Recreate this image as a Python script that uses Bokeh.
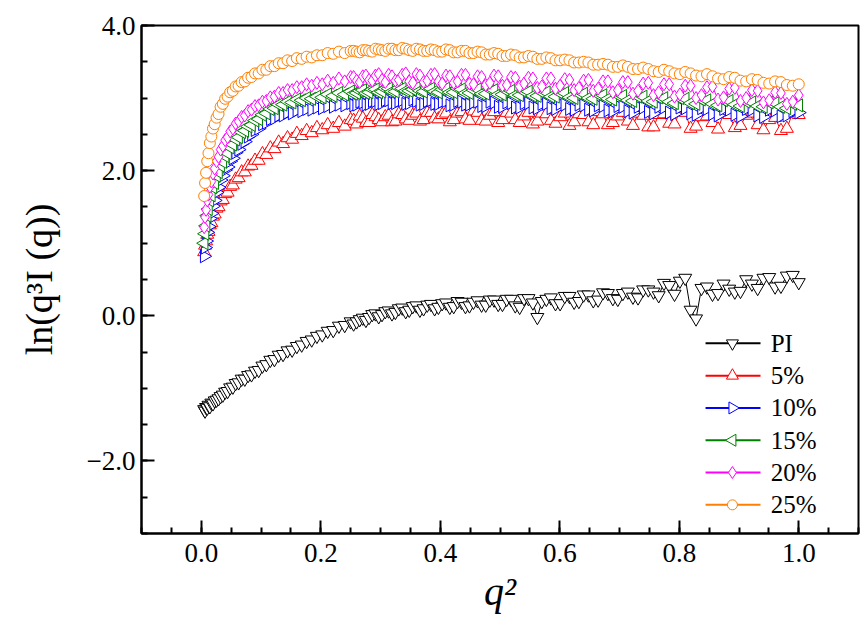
import math
from bokeh.plotting import figure
from bokeh.models import (SingleIntervalTicker, CustomJSTickFormatter, Label,
                          Range1d, ColumnDataSource)
from bokeh.embed import file_html
from bokeh.resources import INLINE

# q^2 values, q = 0.07 ... 1.00 step 0.01
q2 = [0.0049, 0.0064, 0.0081, 0.0100, 0.0121, 0.0144, 0.0169, 0.0196, 0.0225, 0.0256,
      0.0289, 0.0324, 0.0361, 0.0400, 0.0441, 0.0484, 0.0529, 0.0576, 0.0625, 0.0676,
      0.0729, 0.0784, 0.0841, 0.0900, 0.0961, 0.1024, 0.1089, 0.1156, 0.1225, 0.1296,
      0.1369, 0.1444, 0.1521, 0.1600, 0.1681, 0.1764, 0.1849, 0.1936, 0.2025, 0.2116,
      0.2209, 0.2304, 0.2401, 0.2500, 0.2601, 0.2704, 0.2809, 0.2916, 0.3025, 0.3136,
      0.3249, 0.3364, 0.3481, 0.3600, 0.3721, 0.3844, 0.3969, 0.4096, 0.4225, 0.4356,
      0.4489, 0.4624, 0.4761, 0.4900, 0.5041, 0.5184, 0.5329, 0.5476, 0.5625, 0.5776,
      0.5929, 0.6084, 0.6241, 0.6400, 0.6561, 0.6724, 0.6889, 0.7056, 0.7225, 0.7396,
      0.7569, 0.7744, 0.7921, 0.8100, 0.8281, 0.8464, 0.8649, 0.8836, 0.9025, 0.9216,
      0.9409, 0.9604, 0.9801, 1.0000]

# intermediate q^2 values, q = 0.505 ... 0.995 step 0.01
q2_mid = [0.2550, 0.2652, 0.2756, 0.2862, 0.2970, 0.3080, 0.3192, 0.3306, 0.3422, 0.3540,
          0.3660, 0.3782, 0.3906, 0.4032, 0.4160, 0.4290, 0.4422, 0.4556, 0.4692, 0.4830,
          0.4970, 0.5112, 0.5256, 0.5402, 0.5550, 0.5700, 0.5852, 0.6006, 0.6162, 0.6320,
          0.6480, 0.6642, 0.6806, 0.6972, 0.7140, 0.7310, 0.7482, 0.7656, 0.7832, 0.8010,
          0.8190, 0.8372, 0.8556, 0.8742, 0.8930, 0.9120, 0.9312, 0.9506, 0.9702, 0.9900]

pi_vals = [-1.29, -1.31, -1.26, -1.27, -1.23, -1.25, -1.20, -1.21, -1.17, -1.16,
           -1.14, -1.11, -1.09, -1.05, -1.04, -0.99, -0.98, -0.93, -0.92, -0.87,
           -0.87, -0.82, -0.81, -0.76, -0.75, -0.69, -0.67, -0.61, -0.60, -0.54,
           -0.53, -0.48, -0.47, -0.42, -0.40, -0.35, -0.33, -0.28, -0.26, -0.21,
           -0.20, -0.14, -0.13, -0.08, -0.08, -0.03, -0.02, 0.03, 0.02, 0.07,
           0.05, 0.11, 0.08, 0.14, 0.10, 0.16, 0.12, 0.18, 0.13, 0.19,
           0.14, 0.21, 0.15, 0.22, 0.16, 0.23, 0.12, 0.24, -0.02, 0.23,
           0.17, 0.27, 0.19, 0.29, 0.21, 0.32, 0.24, 0.31, 0.26, 0.36,
           0.33, 0.45, 0.30, 0.52, -0.04, 0.40, 0.31, 0.37, 0.34, 0.44,
           0.52, 0.40, 0.55, 0.46]
pi_mid = [-0.11, -0.05, -0.06, 0.02, -0.01, 0.06, 0.03, 0.10, 0.06, 0.13,
          0.08, 0.15, 0.10, 0.17, 0.12, 0.20, 0.13, 0.19, 0.15, 0.22,
          0.16, 0.23, 0.14, 0.24, 0.18, 0.20, 0.25, 0.17, 0.27, 0.20,
          0.29, 0.22, 0.31, 0.23, 0.33, 0.25, 0.36, 0.28, 0.42, 0.48,
          0.08, 0.38, 0.30, 0.44, 0.33, 0.50, 0.38, 0.53, 0.41, 0.56]

p5_vals = [0.88, 0.97, 1.03, 1.12, 1.16, 1.25, 1.28, 1.37, 1.40, 1.48,
           1.50, 1.58, 1.60, 1.68, 1.70, 1.78, 1.80, 1.88, 1.90, 1.98,
           1.98, 2.06, 2.07, 2.14, 2.14, 2.23, 2.22, 2.31, 2.30, 2.39,
           2.37, 2.45, 2.43, 2.51, 2.48, 2.55, 2.52, 2.59, 2.56, 2.63,
           2.58, 2.66, 2.61, 2.70, 2.64, 2.72, 2.66, 2.74, 2.67, 2.76,
           2.68, 2.77, 2.69, 2.79, 2.70, 2.80, 2.71, 2.79, 2.70, 2.81,
           2.69, 2.80, 2.68, 2.81, 2.70, 2.79, 2.66, 2.80, 2.68, 2.78,
           2.65, 2.79, 2.67, 2.77, 2.63, 2.78, 2.66, 2.80, 2.62, 2.76,
           2.60, 2.78, 2.64, 2.80, 2.61, 2.75, 2.57, 2.77, 2.62, 2.79,
           2.56, 2.73, 2.58, 2.77]
p5_mid = [2.69, 2.75, 2.66, 2.77, 2.70, 2.74, 2.67, 2.78, 2.71, 2.76,
          2.68, 2.80, 2.72, 2.77, 2.67, 2.79, 2.71, 2.82, 2.69, 2.76,
          2.66, 2.80, 2.70, 2.75, 2.64, 2.79, 2.69, 2.74, 2.62, 2.78,
          2.67, 2.81, 2.63, 2.75, 2.68, 2.79, 2.60, 2.77, 2.65, 2.82,
          2.58, 2.74, 2.66, 2.79, 2.59, 2.76, 2.63, 2.70, 2.55, 2.80]

p10_vals = [0.82, 0.94, 1.03, 1.15, 1.23, 1.34, 1.41, 1.51, 1.59, 1.70,
            1.77, 1.87, 1.93, 2.01, 2.05, 2.13, 2.17, 2.25, 2.29, 2.37,
            2.40, 2.47, 2.50, 2.56, 2.58, 2.64, 2.66, 2.71, 2.72, 2.76,
            2.76, 2.80, 2.79, 2.83, 2.82, 2.85, 2.84, 2.87, 2.86, 2.89,
            2.88, 2.91, 2.90, 2.93, 2.91, 2.94, 2.92, 2.96, 2.93, 2.97,
            2.93, 2.97, 2.93, 2.96, 2.92, 2.97, 2.92, 2.96, 2.91, 2.95,
            2.91, 2.95, 2.89, 2.94, 2.88, 2.93, 2.87, 2.93, 2.86, 2.92,
            2.85, 2.91, 2.84, 2.90, 2.83, 2.89, 2.82, 2.88, 2.80, 2.87,
            2.79, 2.87, 2.78, 2.86, 2.77, 2.85, 2.76, 2.84, 2.75, 2.84,
            2.74, 2.83, 2.76, 2.80]
p10_mid = [2.90, 2.95, 2.91, 2.96, 2.92, 2.97, 2.93, 2.96, 2.92, 2.98,
           2.91, 2.96, 2.92, 2.95, 2.90, 2.96, 2.91, 2.94, 2.89, 2.95,
           2.88, 2.94, 2.87, 2.93, 2.87, 2.92, 2.86, 2.92, 2.85, 2.91,
           2.84, 2.90, 2.83, 2.89, 2.82, 2.88, 2.81, 2.88, 2.80, 2.87,
           2.79, 2.86, 2.78, 2.85, 2.77, 2.85, 2.76, 2.84, 2.75, 2.82]

p15_vals = [1.00, 1.13, 1.24, 1.38, 1.47, 1.59, 1.66, 1.77, 1.83, 1.93,
            1.98, 2.07, 2.12, 2.20, 2.24, 2.32, 2.36, 2.43, 2.46, 2.53,
            2.55, 2.61, 2.63, 2.69, 2.71, 2.77, 2.79, 2.85, 2.86, 2.91,
            2.91, 2.95, 2.94, 2.98, 2.97, 3.00, 2.99, 3.02, 3.01, 3.05,
            3.03, 3.07, 3.05, 3.09, 3.07, 3.11, 3.08, 3.12, 3.09, 3.13,
            3.09, 3.13, 3.10, 3.14, 3.09, 3.13, 3.08, 3.13, 3.08, 3.12,
            3.07, 3.12, 3.06, 3.11, 3.05, 3.10, 3.04, 3.09, 3.03, 3.08,
            3.02, 3.07, 3.00, 3.06, 2.99, 3.04, 2.98, 3.03, 2.96, 3.02,
            2.95, 3.00, 2.93, 2.99, 2.92, 2.97, 2.90, 2.96, 2.89, 2.94,
            2.88, 2.93, 2.86, 2.90]
p15_mid = [3.06, 3.10, 3.07, 3.12, 3.08, 3.13, 3.09, 3.14, 3.10, 3.12,
           3.10, 3.14, 3.09, 3.12, 3.08, 3.13, 3.07, 3.11, 3.06, 3.12,
           3.05, 3.10, 3.04, 3.09, 3.03, 3.08, 3.02, 3.07, 3.01, 3.06,
           3.00, 3.05, 2.99, 3.04, 2.97, 3.02, 2.96, 3.01, 2.95, 3.00,
           2.93, 2.98, 2.92, 2.97, 2.91, 2.95, 2.89, 2.94, 2.88, 2.92]

p20_vals = [1.22, 1.36, 1.46, 1.59, 1.67, 1.78, 1.85, 1.96, 2.03, 2.13,
            2.19, 2.29, 2.34, 2.42, 2.46, 2.54, 2.58, 2.65, 2.68, 2.74,
            2.76, 2.82, 2.84, 2.89, 2.90, 2.95, 2.96, 3.01, 3.02, 3.07,
            3.07, 3.11, 3.11, 3.15, 3.15, 3.19, 3.17, 3.21, 3.19, 3.24,
            3.21, 3.27, 3.23, 3.29, 3.24, 3.30, 3.25, 3.31, 3.25, 3.32,
            3.24, 3.32, 3.23, 3.33, 3.22, 3.32, 3.23, 3.31, 3.21, 3.32,
            3.20, 3.30, 3.18, 3.31, 3.17, 3.29, 3.16, 3.28, 3.14, 3.27,
            3.13, 3.26, 3.11, 3.24, 3.10, 3.23, 3.08, 3.22, 3.06, 3.20,
            3.04, 3.19, 3.02, 3.17, 3.00, 3.15, 2.98, 3.13, 2.96, 3.11,
            2.94, 3.08, 2.92, 3.04]
p20_mid = [3.29, 3.22, 3.31, 3.24, 3.33, 3.22, 3.30, 3.25, 3.34, 3.21,
           3.31, 3.24, 3.33, 3.20, 3.30, 3.23, 3.32, 3.19, 3.29, 3.21,
           3.30, 3.18, 3.28, 3.20, 3.27, 3.16, 3.27, 3.17, 3.25, 3.14,
           3.25, 3.13, 3.23, 3.11, 3.22, 3.10, 3.21, 3.08, 3.19, 3.05,
           3.17, 3.04, 3.16, 3.01, 3.14, 3.00, 3.10, 2.97, 3.07, 2.95]

p25_vals = [1.65, 1.83, 1.97, 2.13, 2.24, 2.38, 2.47, 2.58, 2.64, 2.73,
            2.78, 2.88, 2.92, 2.99, 3.02, 3.08, 3.10, 3.16, 3.17, 3.22,
            3.23, 3.28, 3.29, 3.34, 3.34, 3.39, 3.39, 3.44, 3.44, 3.48,
            3.48, 3.52, 3.51, 3.55, 3.54, 3.57, 3.56, 3.59, 3.59, 3.62,
            3.61, 3.64, 3.62, 3.65, 3.64, 3.66, 3.65, 3.68, 3.66, 3.68,
            3.66, 3.69, 3.66, 3.68, 3.65, 3.67, 3.64, 3.67, 3.63, 3.65,
            3.62, 3.64, 3.60, 3.62, 3.58, 3.60, 3.56, 3.58, 3.54, 3.56,
            3.52, 3.53, 3.49, 3.50, 3.46, 3.47, 3.43, 3.45, 3.40, 3.42,
            3.37, 3.39, 3.34, 3.36, 3.31, 3.33, 3.27, 3.29, 3.24, 3.26,
            3.21, 3.23, 3.18, 3.19]
p25_mid = [3.65, 3.63, 3.66, 3.64, 3.67, 3.65, 3.68, 3.66, 3.68, 3.65,
           3.67, 3.65, 3.66, 3.64, 3.66, 3.63, 3.65, 3.62, 3.63, 3.60,
           3.61, 3.58, 3.59, 3.56, 3.57, 3.54, 3.55, 3.52, 3.52, 3.49,
           3.49, 3.46, 3.46, 3.43, 3.43, 3.40, 3.40, 3.36, 3.37, 3.33,
           3.34, 3.30, 3.30, 3.26, 3.28, 3.23, 3.25, 3.20, 3.22, 3.17]

labels = ["PI", "5%", "10%", "15%", "20%", "25%"]
colors = ["black", "#FF0000", "#0000FF", "#008000", "#FF00FF", "#FF8000"]
markers = ["inverted_triangle", "triangle", "triangle", "triangle", "diamond", "circle"]
angles = [0.0, 0.0, -math.pi / 2, math.pi / 2, 0.0, 0.0]
sizes = [13, 13, 13, 13, 13, 11]
main_sets = [pi_vals, p5_vals, p10_vals, p15_vals, p20_vals, p25_vals]
mid_sets = [pi_mid, p5_mid, p10_mid, p15_mid, p20_mid, p25_mid]

# legend layout (position of the hand-built key, in axis units)
LEG_ROWS = [-0.38, -0.825, -1.27, -1.715, -2.16, -2.605]
LEG_X0, LEG_XM, LEG_X1, LEG_XT = 0.844, 0.889, 0.936, 0.953

FONT = "Liberation Serif"

p = figure(width=863, height=625, x_range=Range1d(-0.1, 1.1), y_range=Range1d(-3, 4),
           output_backend="svg", toolbar_location=None,
           min_border_left=141, min_border_right=5, min_border_top=25, min_border_bottom=92)
p.xgrid.visible = False
p.ygrid.visible = False
p.outline_line_color = "black"
p.outline_line_width = 2
p.background_fill_color = "white"
p.border_fill_color = "white"

fmt = CustomJSTickFormatter(code="""
const v = Math.abs(tick) < 1e-9 ? 0 : tick;
return (v < 0 ? '\u2212' : '') + Math.abs(v).toFixed(1);
""")

p.xaxis.ticker = SingleIntervalTicker(interval=0.2, num_minor_ticks=4)
p.yaxis.ticker = SingleIntervalTicker(interval=2.0, num_minor_ticks=4)
for ax in (p.xaxis[0], p.yaxis[0]):
    ax.formatter = fmt
    ax.axis_line_width = 2
    ax.major_tick_in = 13
    ax.major_tick_out = 0
    ax.minor_tick_in = 6
    ax.minor_tick_out = 0
    ax.major_tick_line_width = 2
    ax.minor_tick_line_width = 2
    ax.major_label_text_font = FONT
    ax.major_label_text_font_size = "27px"
    ax.major_label_text_color = "black"
    ax.axis_label_text_font = FONT
    ax.axis_label_text_color = "black"

p.xaxis.axis_label = "q²"
p.xaxis.axis_label_text_font_style = "italic"
p.xaxis.axis_label_text_font_size = "40px"
p.xaxis.major_label_standoff = 10
p.xaxis.axis_label_standoff = 4
p.yaxis.axis_label = "ln(q³I (q))"
p.yaxis.axis_label_text_font_style = "normal"
p.yaxis.axis_label_text_font_size = "38px"
p.yaxis.major_label_standoff = 6
p.yaxis.axis_label_standoff = 24

for name, main, mid, col, mk, ang, sz in zip(labels, main_sets, mid_sets, colors,
                                             markers, angles, sizes):
    pts = sorted(zip(q2 + q2_mid, main + mid))
    xs = [a for a, b in pts]
    ys = [b for a, b in pts]
    src = ColumnDataSource(dict(x=xs, y=ys, a=[ang] * len(xs)))
    p.line("x", "y", source=src, line_color=col, line_width=1)
    p.scatter("x", "y", source=src, marker=mk, size=sz, angle="a", angle_units="rad",
              line_color=col, fill_color="white", line_width=1)

# hand-built key (Bokeh's Legend cannot rotate the triangle glyphs)
key = ColumnDataSource(dict(
    y=LEG_ROWS, x0=[LEG_X0] * 6, x1=[LEG_X1] * 6, xm=[LEG_XM] * 6,
    color=colors, marker=markers, angle=angles, size=[12, 12, 12, 12, 12, 10]))
p.segment(x0="x0", y0="y", x1="x1", y1="y", source=key, line_color="color", line_width=2)
p.scatter("xm", "y", source=key, marker="marker", size="size", angle="angle",
          angle_units="rad", line_color="color", fill_color="white", line_width=1)
for name, yy in zip(labels, LEG_ROWS):
    p.add_layout(Label(x=LEG_XT, y=yy, text=name, text_font=FONT, text_font_size="25px",
                       text_color="black", text_baseline="middle", text_align="left"))

open("out.html", "w").write(file_html(p, INLINE))
